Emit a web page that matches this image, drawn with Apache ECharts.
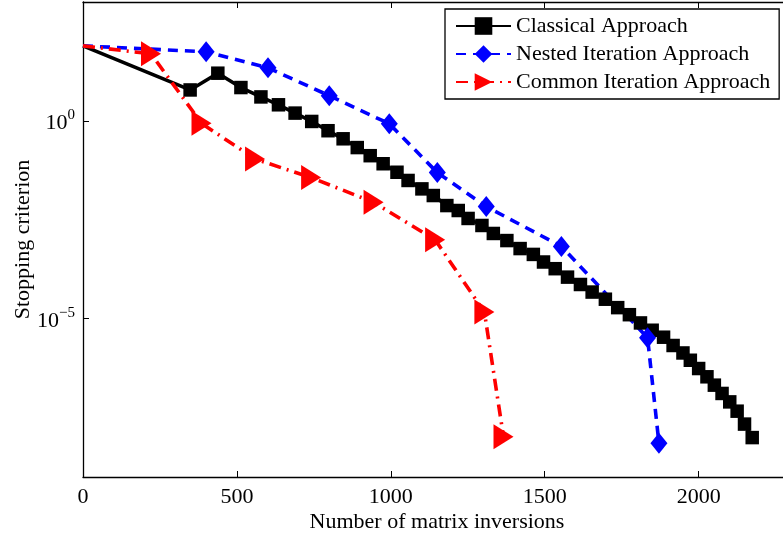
<!DOCTYPE html>
<html><head><meta charset="utf-8">
<script src="https://cdn.jsdelivr.net/npm/echarts@6/dist/echarts.min.js"></script>
<style>html,body{margin:0;padding:0;background:#fff}#c{width:783px;height:536px}</style>
</head><body><div id="c"></div>
<script>
// ---- data ----
const classicalX = [0,348,438,513,578,635,689,743,796,845,891,933,975,1020,1056,1101,1138,1182,1219,1251,1296,1333,1377,1420,1463,1496,1534,1574,1616,1654,1697,1737,1775,1811,1849,1886,1917,1949,1973,2000,2027,2051,2076,2101,2125,2149,2174];
const classicalY = [78,6.0,15.9,6.9,4.0,2.53,1.56,0.96,0.56,0.35,0.21,0.131,0.082,0.050,0.031,0.019,0.0129,0.0072,0.0054,0.0034,0.00226,0.00142,9.4e-4,5.9e-4,4.2e-4,2.7e-4,1.83e-4,1.12e-4,7.3e-5,4.7e-5,3.1e-5,1.9e-5,1.26e-5,7.8e-6,5.1e-6,3.4e-6,2.1e-6,1.36e-6,8.9e-7,5.5e-7,3.4e-7,2.09e-7,1.29e-7,7.9e-8,4.6e-8,2.17e-8,9.9e-9];
const nestedX = [0,400,601,800,995,1151,1310,1554,1834,1871];
const nestedY = [78,55,21.7,4.3,0.84,0.049,0.0068,6.7e-4,3.3e-6,7.1e-9];
const commonX = [0,221,385,559,741,944,1144,1304,1366];
const commonY = [78,49,0.86,0.108,0.0366,0.0087,9.8e-4,1.47e-5,1.04e-8];
const seriesNames = ['Classical Approach','Nested Iteration Approach','Common Iteration Approach'];
const xTicks = [0,500,1000,1500,2000];
const yTickExponents = [-5,0];
const xTitle = 'Number of matrix inversions';
const yTitle = 'Stopping criterion';

const FONT = 'Liberation Serif';
function build(xs, ys){
  return xs.map((x,i)=>{
    const item = {value:[x, Math.log10(ys[i])]};
    if(i===0) item.symbol='none';
    return item;
  });
}
const chart = echarts.init(document.getElementById('c'), null, {renderer:'canvas'});
chart.setOption({
  animation:false,
  backgroundColor:'#fff',
  grid:{left:83, top:2, right:-8, bottom:59, containLabel:false, outerBoundsMode:'none'},
  legend:{
    left:445, top:9, orient:'vertical', align:'left',
    padding:[6,9,6,10], itemWidth:55, itemHeight:22, itemGap:6,
    borderColor:'#000', borderWidth:1.3, backgroundColor:'#fff',
    textStyle:{fontFamily:FONT, fontSize:22, color:'#000'},
    data:seriesNames
  },
  xAxis:[{
    type:'value', min:0, max:2300, interval:500, position:'bottom',
    name:xTitle, nameLocation:'middle', nameGap:34, nameMoveOverlap:false,
    nameTextStyle:{fontFamily:FONT, fontSize:22, color:'#000'},
    axisLine:{show:true, onZero:false, lineStyle:{color:'#000', width:1.3}},
    axisTick:{show:true, inside:true, length:6, customValues:xTicks, lineStyle:{color:'#000'}},
    axisLabel:{customValues:xTicks, margin:9, fontFamily:FONT, fontSize:22, color:'#000', formatter:v=>String(v)},
    splitLine:{show:false}
  },{
    type:'value', min:0, max:2300, interval:500, position:'top',
    axisLine:{show:true, onZero:false, lineStyle:{color:'#000', width:1.3}},
    axisTick:{show:true, inside:true, length:6, customValues:xTicks, lineStyle:{color:'#000'}},
    axisLabel:{show:false},
    splitLine:{show:false}
  }],
  yAxis:{
    type:'value', min:-9, max:3,
    name:yTitle, nameLocation:'middle', nameGap:49, nameMoveOverlap:false,
    nameTextStyle:{fontFamily:FONT, fontSize:22, color:'#000'},
    axisLine:{show:true, onZero:false, lineStyle:{color:'#000', width:1.3}},
    axisTick:{show:true, inside:true, length:6, customValues:yTickExponents, lineStyle:{color:'#000'}},
    axisLabel:{
      customValues:yTickExponents, margin:8, color:'#000',
      formatter:v=>'{a|10}{b|'+(v<0?'\u2212'+(-v):String(v))+'}',
      rich:{
        a:{fontFamily:FONT, fontSize:22, color:'#000', padding:[5,0,0,0], verticalAlign:'bottom'},
        b:{fontFamily:FONT, fontSize:15, color:'#000', verticalAlign:'top'}
      }
    },
    splitLine:{show:false}
  },
  series:[{
    name:seriesNames[0], type:'line', data:build(classicalX, classicalY),
    symbol:'rect', symbolSize:13.5,
    lineStyle:{color:'#000', width:3.6}, itemStyle:{color:'#000'}
  },{
    name:seriesNames[1], type:'line', data:build(nestedX, nestedY),
    symbol:'diamond', symbolSize:[17,21],
    lineStyle:{color:'#0000ff', width:3.6, type:[10,7]}, itemStyle:{color:'#0000ff'}
  },{
    name:seriesNames[2], type:'line', data:build(commonX, commonY),
    symbol:'triangle', symbolSize:[25,20], symbolRotate:-90,
    lineStyle:{color:'#ff0000', width:3.6, type:[12,6,2,6]}, itemStyle:{color:'#ff0000'}
  }]
});
</script>
</body></html>
